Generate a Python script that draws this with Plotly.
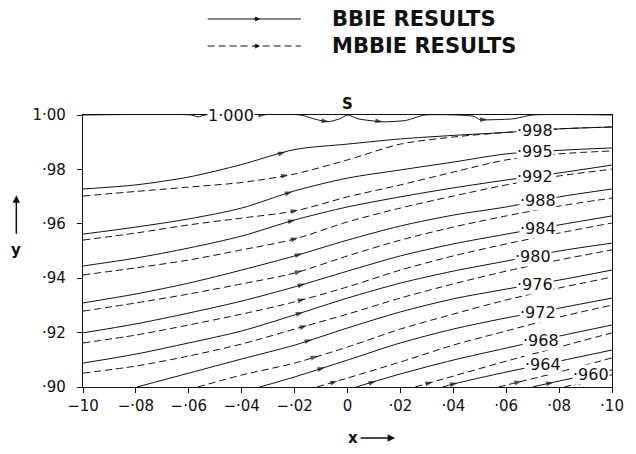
import numpy as np
import plotly.graph_objects as go

# ---------------- data ----------------
X_GRID = [-0.10, -0.08, -0.06, -0.04, -0.02, 0.00, 0.02, 0.04, 0.06, 0.08, 0.10]
psi_labels = ["·998", "·995", "·992", "·988", "·984", "·980", "·976", "·972", "·968", "·964", "·960"]
label_x = [0.071, 0.071, 0.071, 0.072, 0.072, 0.070, 0.071, 0.072, 0.073, 0.074, 0.092]

# BBIE results (solid)
b998_x = X_GRID
b998_y = [0.9728, 0.9743, 0.9772, 0.9818, 0.9873, 0.9893, 0.9912, 0.9925, 0.9936, 0.9949, 0.9956]
b995_x = X_GRID
b995_y = [0.9562, 0.9588, 0.9618, 0.9658, 0.9721, 0.9768, 0.9798, 0.9827, 0.9857, 0.9870, 0.9879]
b992_x = X_GRID
b992_y = [0.9445, 0.9474, 0.9511, 0.9555, 0.9614, 0.9662, 0.9699, 0.9732, 0.9761, 0.9787, 0.9816]
b988_x = X_GRID
b988_y = [0.9309, 0.9342, 0.9382, 0.9430, 0.9482, 0.9540, 0.9592, 0.9632, 0.9662, 0.9699, 0.9728]
b984_x = X_GRID
b984_y = [0.9199, 0.9232, 0.9272, 0.9316, 0.9368, 0.9426, 0.9482, 0.9526, 0.9562, 0.9596, 0.9629]
b980_x = X_GRID
b980_y = [0.9088, 0.9121, 0.9162, 0.9206, 0.9265, 0.9327, 0.9382, 0.9426, 0.9463, 0.9500, 0.9529]
b976_x = [-0.0796, -0.06, -0.04, -0.02, 0.00, 0.02, 0.04, 0.06, 0.08, 0.10]
b976_y = [0.9000, 0.9051, 0.9103, 0.9154, 0.9217, 0.9276, 0.9324, 0.9360, 0.9393, 0.9430]
b972_x = [-0.0332, -0.02, 0.00, 0.02, 0.04, 0.06, 0.08, 0.10]
b972_y = [0.9000, 0.9037, 0.9099, 0.9162, 0.9213, 0.9254, 0.9290, 0.9327]
b968_x = [0.0033, 0.02, 0.04, 0.06, 0.08, 0.10]
b968_y = [0.9000, 0.9048, 0.9099, 0.9143, 0.9187, 0.9228]
b964_x = [0.0360, 0.04, 0.06, 0.08, 0.10]
b964_y = [0.9000, 0.9011, 0.9055, 0.9095, 0.9136]
b960_x = [0.0700, 0.08, 0.10]
b960_y = [0.9000, 0.9022, 0.9063]

# MBBIE results (dashed)
m998_x = X_GRID
m998_y = [0.9702, 0.9719, 0.9735, 0.9752, 0.9783, 0.9835, 0.9893, 0.9919, 0.9936, 0.9949, 0.9956]
m995_x = X_GRID
m995_y = [0.9540, 0.9566, 0.9596, 0.9621, 0.9647, 0.9699, 0.9743, 0.9790, 0.9835, 0.9857, 0.9868]
m992_x = X_GRID
m992_y = [0.9412, 0.9438, 0.9467, 0.9504, 0.9544, 0.9607, 0.9658, 0.9702, 0.9743, 0.9776, 0.9801]
m988_x = X_GRID
m988_y = [0.9279, 0.9309, 0.9342, 0.9379, 0.9419, 0.9482, 0.9540, 0.9588, 0.9629, 0.9665, 0.9695]
m984_x = X_GRID
m984_y = [0.9162, 0.9191, 0.9228, 0.9268, 0.9313, 0.9368, 0.9430, 0.9482, 0.9526, 0.9566, 0.9603]
m980_x = X_GRID
m980_y = [0.9051, 0.9077, 0.9114, 0.9158, 0.9213, 0.9268, 0.9327, 0.9379, 0.9426, 0.9467, 0.9504]
m976_x = [-0.0566, -0.04, -0.02, 0.00, 0.02, 0.04, 0.06, 0.08, 0.10]
m976_y = [0.9000, 0.9044, 0.9088, 0.9147, 0.9213, 0.9268, 0.9320, 0.9364, 0.9404]
m972_x = [-0.0115, 0.00, 0.02, 0.04, 0.06, 0.08, 0.10]
m972_y = [0.9000, 0.9033, 0.9092, 0.9154, 0.9206, 0.9257, 0.9301]
m968_x = [0.0256, 0.04, 0.06, 0.08, 0.10]
m968_y = [0.9000, 0.9040, 0.9095, 0.9147, 0.9199]
m964_x = [0.0571, 0.06, 0.08, 0.10]
m964_y = [0.9000, 0.9007, 0.9055, 0.9107]
m960_x = [0.0820, 0.10]
m960_y = [0.9000, 0.9045]

# dividing streamline psi = 1.000 along the free surface, stagnation point S at x = 0
top_x = [-0.10, -0.0590, -0.0565, -0.0540, -0.0178, -0.0120, -0.0074, -0.0030, 0.0,
         0.0040, 0.0134, 0.0220, 0.0293, 0.0479, 0.0500, 0.0560, 0.0627, 0.0700, 0.10]
top_y = [1.0, 1.0, 0.9993, 1.0, 1.0, 0.9984, 0.9975, 0.9986, 1.0,
         0.9986, 0.9975, 0.9980, 1.0, 0.9995, 0.9983, 0.9983, 0.9986, 1.0, 1.0]
top_arrow_x = [-0.0308, -0.0070, 0.0134, 0.0530]

# arrow positions along each streamline
b_arrow_x = [-0.0234, -0.0208, -0.0197, -0.0171, -0.0160, -0.0167, -0.0134, -0.0085, 0.0108, 0.0416, 0.0780]
m_arrow_x = [-0.0223, -0.0186, -0.0186, -0.0171, -0.0160, -0.0152, -0.0111, -0.0037, 0.0323, 0.0660, 0.0900]

x_ticks = [-0.10, -0.08, -0.06, -0.04, -0.02, 0.00, 0.02, 0.04, 0.06, 0.08, 0.10]
x_tick_text = ["\u221210", "\u2212·08", "\u2212·06", "\u2212·04", "\u2212·02", "0", "·02", "·04", "·06", "·08", "·10"]
y_ticks = [0.90, 0.92, 0.94, 0.96, 0.98, 1.00]
y_tick_text = ["·90", "·92", "·94", "·96", "·98", "1·00"]

# ---------------- figure ----------------
bbie = [(b998_x, b998_y), (b995_x, b995_y), (b992_x, b992_y), (b988_x, b988_y),
        (b984_x, b984_y), (b980_x, b980_y), (b976_x, b976_y), (b972_x, b972_y),
        (b968_x, b968_y), (b964_x, b964_y), (b960_x, b960_y)]
mbbie = [(m998_x, m998_y), (m995_x, m995_y), (m992_x, m992_y), (m988_x, m988_y),
         (m984_x, m984_y), (m980_x, m980_y), (m976_x, m976_y), (m972_x, m972_y),
         (m968_x, m968_y), (m964_x, m964_y), (m960_x, m960_y)]

INK = "#111111"
DASH = "7px,4px"
FONT = "DejaVu Sans"

fig = go.Figure()


def add_arrow(xs, ys, xa):
    xp = xa - 0.002
    ya = float(np.interp(xa, xs, ys))
    yp = float(np.interp(xp, xs, ys))
    fig.add_trace(go.Scatter(
        x=[xp, xa], y=[yp, ya], mode="markers", hoverinfo="skip",
        marker=dict(symbol=["circle", "arrow"], size=[0, 8], color=INK,
                    angleref="previous", line=dict(width=0)),
    ))


for (xs, ys), xa in zip(mbbie, m_arrow_x):
    fig.add_trace(go.Scatter(x=xs, y=ys, mode="lines", hoverinfo="skip",
                             line=dict(color=INK, width=1, dash=DASH, shape="spline", smoothing=0.8)))
    add_arrow(xs, ys, xa)

for (xs, ys), xa in zip(bbie, b_arrow_x):
    fig.add_trace(go.Scatter(x=xs, y=ys, mode="lines", hoverinfo="skip",
                             line=dict(color=INK, width=1, shape="spline", smoothing=0.8)))
    add_arrow(xs, ys, xa)

fig.add_trace(go.Scatter(x=top_x, y=top_y, mode="lines", hoverinfo="skip",
                         line=dict(color=INK, width=1, shape="spline", smoothing=0.6)))
for xa in top_arrow_x:
    add_arrow(top_x, top_y, xa)

# streamline value labels
for (xs, ys), lx, txt in zip(bbie, label_x, psi_labels):
    ly = float(np.interp(lx, xs, ys))
    fig.add_annotation(x=lx, y=ly, text=txt, showarrow=False, bgcolor="white",
                       borderpad=0, xanchor="center", yanchor="middle",
                       font=dict(family=FONT, size=16, color=INK))
fig.add_annotation(x=-0.044, y=1.0, text="1·000", showarrow=False, bgcolor="white",
                   borderpad=0, xanchor="center", yanchor="middle",
                   font=dict(family=FONT, size=16, color=INK))
fig.add_annotation(x=0.0, y=1.0, text="<b>S</b>", showarrow=False, yshift=11,
                   xanchor="center", yanchor="middle", font=dict(family=FONT, size=15, color=INK))

# axis titles with arrows
fig.add_annotation(xref="paper", yref="paper", x=-0.126, y=0.503, text="<b>y</b>",
                   showarrow=False, xanchor="center", yanchor="middle",
                   font=dict(family=FONT, size=15, color=INK))
fig.add_annotation(xref="paper", yref="paper", x=-0.126, y=0.705, ax=0, ay=40, text="",
                   showarrow=True, arrowhead=2, arrowsize=1, arrowwidth=1.5, arrowcolor=INK)
fig.add_annotation(xref="paper", yref="paper", x=0.510, y=-0.1875, text="<b>x</b>",
                   showarrow=False, xanchor="center", yanchor="middle",
                   font=dict(family=FONT, size=15, color=INK))
fig.add_annotation(xref="paper", yref="paper", x=0.590, y=-0.1875, ax=-36, ay=0, text="",
                   showarrow=True, arrowhead=2, arrowsize=1, arrowwidth=1.5, arrowcolor=INK)

# legend (drawn)
for yy, dash, name in [(1.3529, "solid", "BBIE RESULTS"), (1.2537, DASH, "MBBIE RESULTS")]:
    fig.add_shape(type="line", xref="paper", yref="paper", x0=0.2356, x1=0.4119, y0=yy, y1=yy,
                  line=dict(color=INK, width=1, dash=dash))
    fig.add_annotation(xref="paper", yref="paper", x=0.335, y=yy, ax=-8, ay=0, text="",
                       showarrow=True, arrowhead=2, arrowsize=1, arrowwidth=1, arrowcolor=INK)
    fig.add_annotation(xref="paper", yref="paper", x=0.4675, y=yy, text="<b>" + name + "</b>",
                       xanchor="left", yanchor="middle", showarrow=False,
                       font=dict(family=FONT, size=21, color=INK))

axis_common = dict(showline=True, linecolor=INK, linewidth=1.2, mirror=True, showgrid=False,
                   zeroline=False, ticks="outside", ticklen=5, tickcolor=INK,
                   tickfont=dict(family=FONT, size=15, color=INK))
fig.update_xaxes(range=[-0.10, 0.10], tickvals=x_ticks, ticktext=x_tick_text, **axis_common)
fig.update_yaxes(range=[0.90, 1.00], tickvals=y_ticks, ticktext=y_tick_text,
                 ticklabelstandoff=8, **axis_common)

fig.update_layout(width=636, height=454, margin=dict(l=83, r=14, t=115, b=67),
                  plot_bgcolor="white", paper_bgcolor="white", showlegend=False)

# remove the browser's default page margin so the figure sits at the window's top-left corner
fig.write_html("out.html", config={"displayModeBar": False},
               post_script="document.body.style.margin='0';")
